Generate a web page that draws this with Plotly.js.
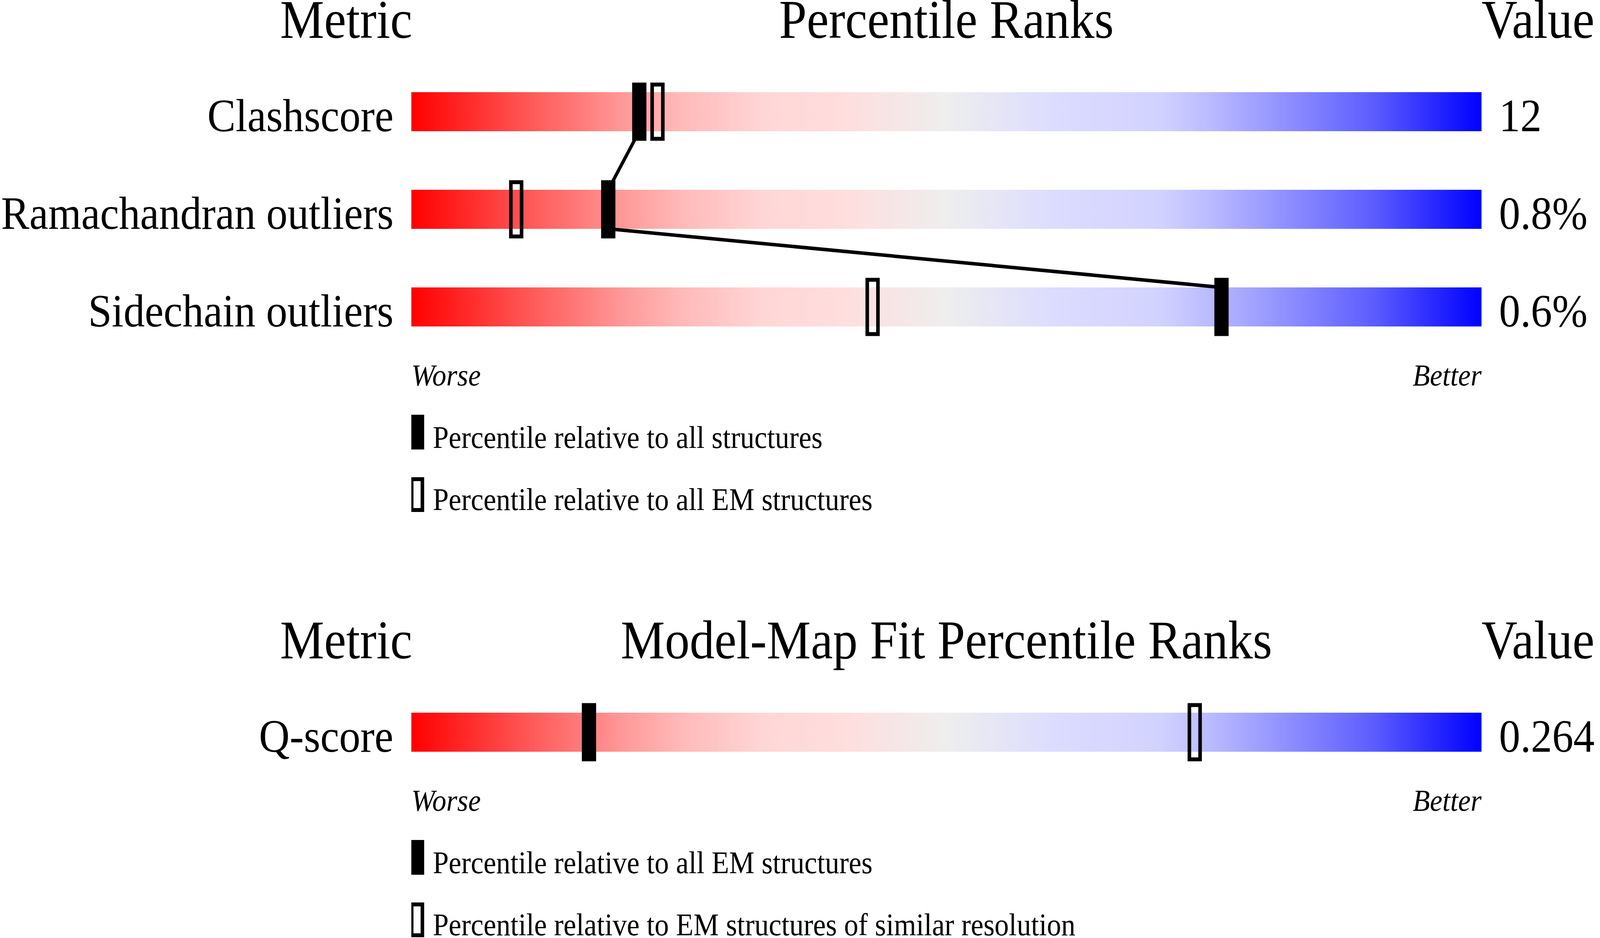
<!DOCTYPE html>
<html><head><meta charset="utf-8">
<script src="https://cdn.plot.ly/plotly-3.0.1.min.js"></script>
<style>html,body{margin:0;padding:0;background:#fff;overflow:hidden}
#chart{position:absolute;left:0;top:0;transform-origin:0 0}</style>
</head><body><div id="chart"></div>
<script>
// ---------------- data ----------------
const metrics = ['Clashscore', 'Ramachandran outliers', 'Sidechain outliers'];
const metricValues = ['12', '0.8%', '0.6%'];
const pctAll = [21.3, 18.4, 75.7];      // percentile relative to all structures (filled)
const pctEM = [23.0, 9.8, 43.1];        // percentile relative to all EM structures (open)
const fitMetrics = ['Q-score'];
const fitValues = ['0.264'];
const fitPctEM = [16.6];                // relative to all EM structures (filled)
const fitPctRes = [73.2];               // relative to EM structures of similar resolution (open)
const titlesTop = ['Metric', 'Percentile Ranks', 'Value'];
const titlesBottom = ['Metric', 'Model-Map Fit Percentile Ranks', 'Value'];
const legendTop = ['Percentile relative to all structures', 'Percentile relative to all EM structures'];
const legendBottom = ['Percentile relative to all EM structures', 'Percentile relative to EM structures of similar resolution'];
const scaleEnds = ['Worse', 'Better'];

// ---------------- layout constants (reference pixels) ----------------
const W = 4485, H = 2402, L = 1153, R = 4153;
const PPX = (R - L) / 100;               // pixels per percentile
const FONT = 'Liberation Serif, Times New Roman, serif';
const FS_TITLE = 139, FS_LABEL = 119, FS_END = 79, FS_LEG = 80;
const DESC = 0.216;
const BAR_H = 100, MK_H = 149, MK_W = 40, OPEN_LW = 10, LINK_W = 9, ROW_STEP = 250;
const gradient = [
  [0, '#ff0000'], [0.1, '#ff5050'], [0.2, '#ff9a9a'], [0.25, '#ffb8b8'], [0.33, '#ffd6d6'],
  [0.4, '#ffdddd'], [0.5, '#eeeeee'], [0.6, '#dcdcff'], [0.7, '#d2d2ff'], [0.75, '#b8b8ff'],
  [0.8, '#9a9aff'], [0.9, '#5c5cff'], [1, '#0000ff']
];

const traces = [], annotations = [], shapes = [];
const px2x = p => (p - L) / PPX;
const px2paperX = p => (p - L) / (R - L);
const px2paperY = p => 1 - p / H;

function text(str, xPx, baseline, fs, anchor, italic) {
  annotations.push({
    text: str, xref: 'paper', yref: 'paper', x: px2paperX(xPx), y: px2paperY(baseline + DESC * fs),
    xanchor: anchor, yanchor: 'bottom', showarrow: false, borderpad: 0, borderwidth: 0,
    font: {family: FONT, size: fs, color: '#000', style: italic ? 'italic' : 'normal'}
  });
}
function rectXY(xc, yc, wPct, hPx, repeat) {
  const x0 = xc - wPct / 2, x1 = xc + wPct / 2, y0 = yc - hPx / 2, y1 = yc + hPx / 2;
  const x = [x0, x1, x1, x0, x0], y = [y0, y0, y1, y1, y0];
  if (repeat) { x.push(x1); y.push(y0); }
  return {x, y};
}
function filledMarker(p, yc) {
  const r = rectXY(p, yc, MK_W / PPX, MK_H);
  traces.push({type: 'scatter', mode: 'none', x: r.x, y: r.y, fill: 'toself', fillcolor: '#000', hoverinfo: 'skip'});
}
function openMarker(p, yc) {
  const r = rectXY(p, yc, (MK_W - OPEN_LW) / PPX, MK_H - OPEN_LW, true);
  traces.push({type: 'scatter', mode: 'lines', x: r.x, y: r.y, line: {color: '#000', width: OPEN_LW}, hoverinfo: 'skip'});
}

function block(titleBase, titles, labels, values, pFilled, pOpen, legend) {
  text(titles[0], L + 3, titleBase, FS_TITLE, 'right');
  text(titles[1], (L + R) / 2, titleBase, FS_TITLE, 'center');
  text(titles[2], R, titleBase, FS_TITLE, 'left');
  const rows = labels.map((_, i) => titleBase + 189 + i * ROW_STEP);
  rows.forEach((yc, i) => {
    const y0 = yc - BAR_H / 2, y1 = yc + BAR_H / 2;
    traces.push({type: 'scatter', mode: 'none', x: [0, 100, 100, 0, 0], y: [y0, y0, y1, y1, y0],
      fill: 'toself', fillgradient: {type: 'horizontal', start: 0, stop: 100, colorscale: gradient}, hoverinfo: 'skip'});
    text(labels[i], L - 50, y1, FS_LABEL, 'right');
    text(values[i], R + 49, y1, FS_LABEL, 'left');
  });
  if (rows.length > 1) {
    const lx = [], ly = [];
    rows.forEach((yc, i) => {
      if (i > 0) { lx.push(pFilled[i]); ly.push(yc - BAR_H / 2); }
      if (i < rows.length - 1) { lx.push(pFilled[i]); ly.push(yc + BAR_H / 2); }
    });
    traces.push({type: 'scatter', mode: 'lines', x: lx, y: ly, line: {color: '#000', width: LINK_W}, hoverinfo: 'skip'});
  }
  rows.forEach((yc, i) => { openMarker(pOpen[i], yc); filledMarker(pFilled[i], yc); });
  const last = rows[rows.length - 1];
  const endBase = last + 201;
  text(scaleEnds[0], L, endBase, FS_END, 'left', true);
  text(scaleEnds[1], R, endBase, FS_END, 'right', true);
  const icon1 = endBase + 75, icon2 = endBase + 235, iconH = 89;
  shapes.push({type: 'rect', xref: 'x', yref: 'y', x0: px2x(L - 4), x1: px2x(L + 36), y0: icon1, y1: icon1 + iconH,
    fillcolor: '#000', line: {width: 0}});
  shapes.push({type: 'rect', xref: 'x', yref: 'y', x0: px2x(L - 4 + OPEN_LW / 2), x1: px2x(L + 36 - OPEN_LW / 2),
    y0: icon2 + OPEN_LW / 2, y1: icon2 + iconH - OPEN_LW / 2, fillcolor: 'rgba(0,0,0,0)', line: {width: OPEN_LW, color: '#000'}});
  text(legend[0], L + 60, icon1 + 85, FS_LEG, 'left');
  text(legend[1], L + 60, icon2 + 84, FS_LEG, 'left');
}

block(97, titlesTop, metrics, metricValues, pctAll, pctEM, legendTop);
block(1686, titlesBottom, fitMetrics, fitValues, fitPctEM, fitPctRes, legendBottom);

const layout = {
  width: W, height: H, margin: {l: L, r: W - R, t: 0, b: 0, pad: 0},
  paper_bgcolor: '#fff', plot_bgcolor: '#fff', showlegend: false,
  xaxis: {range: [0, 100], visible: false, fixedrange: true},
  yaxis: {range: [H, 0], visible: false, fixedrange: true},
  annotations, shapes
};
// fit the reference-sized figure to the actual viewport
const vw = window.innerWidth || W, vh = window.innerHeight || H;
document.getElementById('chart').style.transform = 'scale(' + (vw / W) + ',' + (vh / H) + ')';
Plotly.newPlot('chart', traces, layout, {staticPlot: true, displayModeBar: false});
</script></body></html>
